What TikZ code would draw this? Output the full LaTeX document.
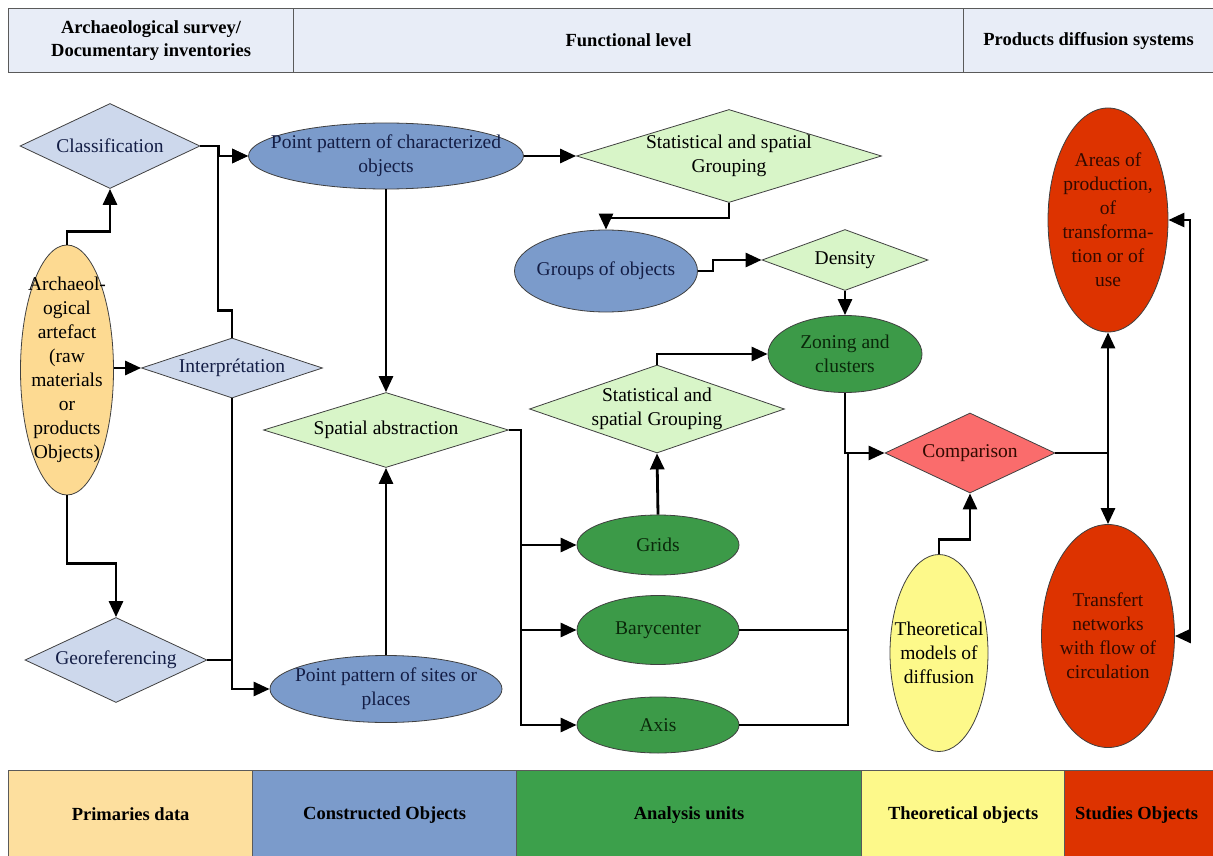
\documentclass[tikz,border=0pt]{standalone}
\usepackage{fontspec}
\setmainfont{Liberation Serif}
\usetikzlibrary{shapes.geometric,arrows.meta}
\definecolor{hdrfill}{RGB}{232,237,247}
\definecolor{hdrline}{RGB}{90,90,90}
\definecolor{bluegray}{RGB}{205,216,236}
\definecolor{constr}{RGB}{123,155,203}
\definecolor{lgreen}{RGB}{216,245,200}
\definecolor{dgreen}{RGB}{60,154,72}
\definecolor{lgdgreen}{RGB}{60,160,75}
\definecolor{cmpred}{RGB}{250,108,108}
\definecolor{yell}{RGB}{253,249,138}
\definecolor{studred}{RGB}{221,51,0}
\definecolor{orng}{RGB}{253,218,146}
\definecolor{lgorng}{RGB}{253,223,158}
\definecolor{navy}{RGB}{20,30,70}
\definecolor{dkgreen}{RGB}{10,40,10}
\definecolor{dkbrown}{RGB}{50,10,0}
\newcommand\nfnt{\fontsize{19.5}{24}\selectfont}
\newcommand\hfnt{\bfseries\fontsize{18.5}{23}\selectfont}
\begin{document}
\begin{tikzpicture}[x=1pt,y=-1pt,
  shp/.style={draw=black!75, line width=0.8pt, inner sep=0pt},
  dia/.style={shp, diamond},
  ell/.style={shp, ellipse},
  lbl/.style={font=\nfnt, align=center, inner sep=0pt},
  cell/.style={draw=hdrline, line width=1.2pt, anchor=north west, inner sep=0pt, font=\hfnt, align=center},
  line/.style={line width=2.8pt, draw=black},
  conn/.style={line, -{Triangle[length=16pt,width=14pt]}}
]
\useasboundingbox (0,0) rectangle (1213,856);

% header
\node[cell, fill=hdrfill, minimum width=285pt, minimum height=64pt] (h1) at (8,8) {Archaeological survey/\\Documentary inventories};
\node[cell, fill=hdrfill, minimum width=670pt, minimum height=64pt] (h2) at (293,8) {Functional level};
\node[cell, fill=hdrfill, minimum width=252pt, minimum height=64pt] (h3) at (963,8) {Products diffusion systems\hspace{2pt}};

% legend
\node[cell, fill=lgorng, minimum width=244pt, minimum height=88pt] (l1) at (8,770) {Primaries data};
\node[cell, fill=constr, minimum width=264pt, minimum height=88pt] (l2) at (252,770) {Constructed Objects};
\node[cell, fill=lgdgreen, minimum width=345pt, minimum height=88pt] (l3) at (516,770) {Analysis units};
\node[cell, fill=yell, minimum width=203pt, minimum height=88pt] (l4) at (861,770) {Theoretical objects};
\node[cell, fill=studred, minimum width=152pt, minimum height=88pt] (l5) at (1064,770) {Studies Objects\hspace{8pt}};

% nodes
\node[dia, fill=bluegray, minimum width=180pt, minimum height=85pt, label={[lbl,text=navy]center:Classification}] (cls) at (110,146) {};
\node[ell, fill=orng, minimum width=93pt, minimum height=250pt, label={[lbl]center:{Archaeol-\\ogical\\artefact\\(raw\\materials\\or\\products\\Objects)}}] (art) at (67,370) {};
\node[dia, fill=bluegray, minimum width=181pt, minimum height=60pt, label={[lbl,text=navy]center:Interprétation}] (int) at (232,368) {};
\node[dia, fill=bluegray, minimum width=182pt, minimum height=85pt, label={[lbl,text=navy]center:Georeferencing}] (geo) at (116,660) {};
\node[ell, fill=constr, minimum width=275pt, minimum height=66pt, label={[lbl,text=navy]center:{Point pattern of characterized\\objects}}] (ppc) at (386,156) {};
\node[ell, fill=constr, minimum width=232pt, minimum height=67pt, label={[lbl,text=navy]center:{Point pattern of sites or\\places}}] (pps) at (386,689) {};
\node[dia, fill=lgreen, minimum width=245pt, minimum height=75pt, label={[lbl]center:Spatial abstraction}] (sab) at (386,430) {};
\node[dia, fill=lgreen, minimum width=305pt, minimum height=93pt, label={[lbl]center:{Statistical and spatial\\Grouping}}] (sg1) at (729,156) {};
\node[ell, fill=constr, minimum width=183pt, minimum height=82pt, label={[lbl,text=navy]center:Groups of objects}] (grp) at (606,271) {};
\node[dia, fill=lgreen, minimum width=166pt, minimum height=61pt, label={[lbl]center:Density}] (den) at (845,260) {};
\node[ell, fill=dgreen, minimum width=154pt, minimum height=77pt, label={[lbl,text=dkgreen]center:{Zoning and\\clusters}}] (zon) at (845,354) {};
\node[dia, fill=lgreen, minimum width=255pt, minimum height=88pt, label={[lbl]center:{Statistical and\\spatial Grouping}}] (sg2) at (657,409) {};
\node[ell, fill=dgreen, minimum width=162pt, minimum height=60pt, label={[lbl,text=dkgreen]center:Grids}] (grd) at (658,545) {};
\node[ell, fill=dgreen, minimum width=162pt, minimum height=69pt, label={[lbl,text=dkgreen]center:Barycenter}] (bar) at (658,630) {};
\node[ell, fill=dgreen, minimum width=162pt, minimum height=56pt, label={[lbl,text=dkgreen]center:Axis}] (axs) at (658,725) {};
\node[dia, fill=cmpred, minimum width=170pt, minimum height=80pt, label={[lbl,text=dkbrown]center:Comparison}] (cmp) at (970,453) {};
\node[ell, fill=yell, minimum width=98pt, minimum height=197pt, label={[lbl]center:{Theoretical\\models of\\diffusion}}] (theo) at (939,653) {};
\node[ell, fill=studred, minimum width=120pt, minimum height=224pt, label={[lbl,text=dkbrown]center:{Areas of\\production,\\of\\transforma-\\tion or of\\use}}] (area) at (1108,220) {};
\node[ell, fill=studred, minimum width=133pt, minimum height=223pt, label={[lbl,text=dkbrown]center:{Transfert\\networks\\with flow of\\circulation}}] (trn) at (1108,636) {};

% connectors
\draw[conn] (art.north) -- ++(0,-13) -| (cls.south);
\draw[conn] (cls.east) -- ++(18,0) |- (ppc.west);
\draw[conn] (int.north) -- ++(0,-27) -- ++(-14,0) |- (ppc.west);
\draw[conn] (int.west -| art.east) -- (int.west);
\draw[conn] (int.south) |- (pps.west);
\draw[line] (geo.east) -- (geo.east -| int.south);
\draw[conn] (art.south) -- ++(0,68) -| (geo.north);
\draw[conn] (ppc.south) -- (sab.north);
\draw[conn] (pps.north) -- (sab.south);
\draw[conn] (ppc.east) -- (sg1.west);
\draw[conn] (sg1.south) -- ++(0,15) -| (grp.north);
\draw[conn] (grp.east) -- ++(15,0) |- (den.west);
\draw[conn] (den.south) -- (zon.north);
\draw[conn] (sab.east) -- ++(12,0) |- (grd.west);
\draw[conn] (sab.east) -- ++(12,0) |- (bar.west);
\draw[conn] (sab.east) -- ++(12,0) |- (axs.west);
\draw[conn] (grd.north) -- (sg2.south);
\draw[conn] (sg2.north) |- (zon.west);
\draw[conn] (zon.south) |- (cmp.west);
\coordinate (j) at (848,453);
\draw[line] (bar.east) -| (j);
\draw[line] (axs.east) -| (j);
\draw[conn] (theo.north) -- ++(0,-15) -| (cmp.south);
\draw[conn] (cmp.east) -| (area.south);
\draw[conn] (cmp.east) -| (trn.north);
\draw[line, {Triangle[length=16pt,width=14pt]}-{Triangle[length=16pt,width=14pt]}] (trn.east) -- ++(15,0) |- (area.east);
\end{tikzpicture}
\end{document}
